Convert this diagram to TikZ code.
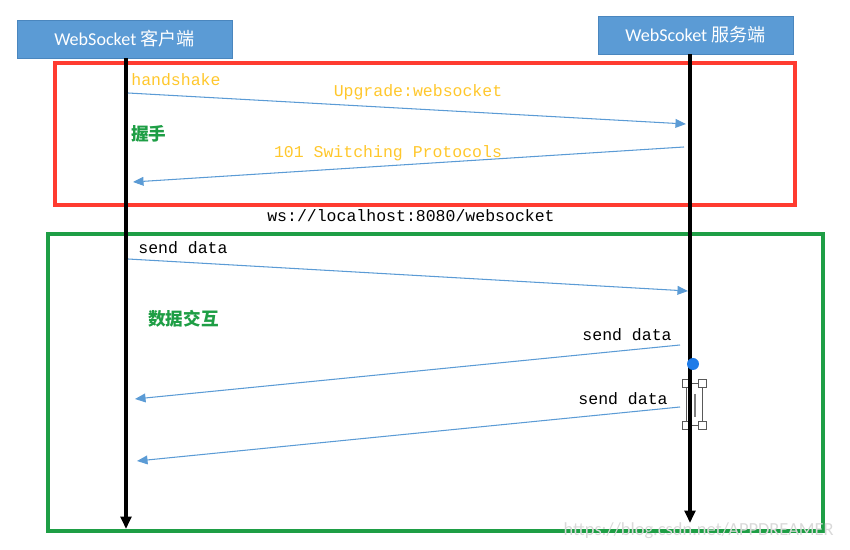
\documentclass[tikz,border=0pt]{standalone}
\usepackage{fontspec}
\setmainfont{Carlito}
\setmonofont{Liberation Mono}
\newfontfamily\cjk{Noto Sans CJK SC}
\usetikzlibrary{arrows.meta,positioning}

\definecolor{boxblue}{HTML}{5B9BD5}
\definecolor{boxedge}{HTML}{4A86BE}
\definecolor{msgblue}{HTML}{5B9BD5}
\definecolor{hsred}{HTML}{FF3B30}
\definecolor{dxgreen}{HTML}{1E9E45}
\definecolor{lblyellow}{HTML}{FFC72C}
\definecolor{dotblue}{HTML}{1E7BE8}

\begin{document}
\begin{tikzpicture}[
        x=0.02cm, y=-0.02cm,
        actor/.style={
            draw=boxedge,
            fill=boxblue,
            text=white,
            minimum height=0.76cm,
            font=\fontsize{10.3}{12}\selectfont
        },
        life/.style={line width=2.1pt, -{Triangle[length=7pt,width=6pt]}},
        msg/.style={line width=0.6pt, draw=msgblue, -{Triangle[length=6pt,width=5pt]}, color=msgblue},
        frameR/.style={draw=hsred, line width=2.2pt},
        frameG/.style={draw=dxgreen, line width=2.2pt},
        code/.style={font=\ttfamily\fontsize{9.4}{11}\selectfont, inner sep=0pt},
        codeY/.style={code, text=lblyellow},
        phase/.style={font=\cjk\bfseries\fontsize{10}{12}\selectfont, text=dxgreen, inner sep=0pt}
    ]
        \useasboundingbox (0,0) rectangle (850,550);

        \node[actor, minimum width=4.3cm] (client) at (124.5,39) {WebSocket {\cjk 客户端}};
        \node[actor, minimum width=3.9cm] (server) at (695.5,35) {WebScoket {\cjk 服务端}};

        \draw[frameR] (55,63) rectangle (795,205);
        \draw[frameG] (48,234) rectangle (823,531);

        \coordinate (ctop) at (126,58);
        \coordinate (cbot) at (126,529);
        \coordinate (stop) at (690,54);
        \coordinate (sbot) at (690,523);
        \draw[life] (ctop) -- (cbot);

        \draw[gray!70!black, line width=0.5pt] (686,383) rectangle (702,425);
        \foreach \hx in {686,702}
            \foreach \hy in {383,425}
                \draw[gray!70!black, fill=white, line width=0.5pt] (\hx-4,\hy-4) rectangle (\hx+4,\hy+4);
        \draw[gray, line width=1pt] (695,394) -- (695,417);
        \draw[life] (stop) -- (sbot);
        \fill[dotblue] (693,364) circle (0.12cm);

        \coordinate (up1) at (128,93);
        \coordinate (up2) at (686,124);
        \coordinate (sw1) at (684,147);
        \coordinate (sw2) at (133,182);
        \coordinate (sd1) at (128,259);
        \coordinate (sd2) at (688,291);
        \coordinate (sd3) at (680,345);
        \coordinate (sd4) at (135,399);
        \coordinate (sd5) at (680,407);
        \coordinate (sd6) at (137,461);

        \draw[msg] (up1) -- (up2);
        \draw[msg] (sw1) -- (sw2);
        \draw[msg] (sd1) -- (sd2);
        \draw[msg] (sd3) -- (sd4);
        \draw[msg] (sd5) -- (sd6);

        \node[codeY, anchor=west] (hs) at (131,80) {handshake};
        \node[codeY] (upg) at (418,92) {Upgrade:websocket};
        \node[codeY] (sw) at (388,153) {101 Switching Protocols};
        \node[phase, anchor=west] (wo) at (131,134) {握手};
        \node[code] (url) at (411,216) {ws://localhost:8080/websocket};
        \node[code, anchor=west] (snd1) at (138,248) {send data};
        \node[phase, anchor=west] (jh) at (148,319) {数据交互};
        \node[code, anchor=east] (snd2) at (672,335) {send data};
        \node[code, anchor=east] (snd3) at (668,399) {send data};

        \node[text=gray!30, font=\fontsize{10.5}{12}\selectfont, anchor=east] (wm) at (840,531) {https://blog.csdn.net/APPDREAMER};
    \end{tikzpicture}
\end{document}
